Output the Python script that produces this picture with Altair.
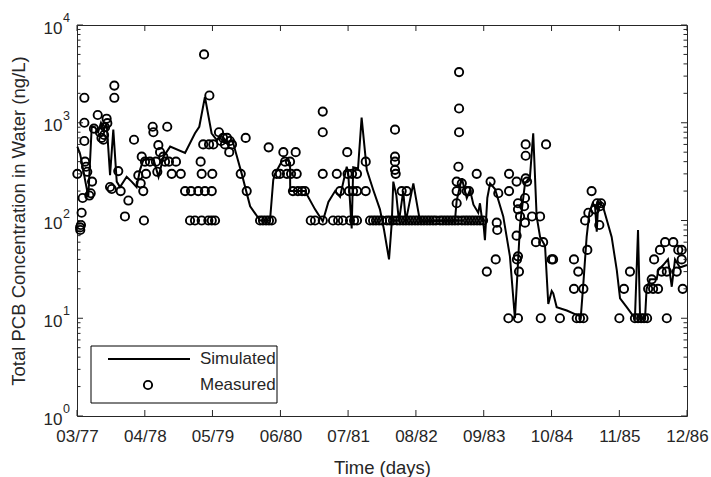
import altair as alt
import pandas as pd

# ---- simulated water-column PCB concentration (days since 1 Mar 1977, ng/L)
sim_day = [2, 18, 29, 47, 66, 86, 105, 123, 140, 158, 173, 193, 212, 232, 251, 290, 319, 348,
           368, 388, 447, 476, 505, 544, 631, 689, 714, 747, 786, 815, 835, 864, 905, 912, 962,
           1011, 1069, 1127, 1146, 1156, 1195, 1225, 1244, 1245, 1331, 1390, 1435, 1468, 1507,
           1536, 1575, 1584, 1604, 1613, 1641, 1662, 1692, 1730, 1769, 1793, 1822, 1838, 1847,
           1865, 1880, 1905, 1920, 1964, 2003, 2207, 2217, 2247, 2276, 2295, 2315, 2343, 2353,
           2363, 2373, 2382, 2396, 2412, 2441, 2489, 2528, 2557, 2571, 2587, 2616, 2645, 2664,
           2684, 2704, 2733, 2752, 2772, 2781, 2801, 2860, 2908, 2942, 2957, 2976, 2992, 3011,
           3025, 3035, 3044, 3071, 3122, 3152, 3171, 3210, 3258, 3276, 3288, 3317, 3326, 3346,
           3385, 3394, 3423, 3451, 3473, 3492, 3521, 3562]
sim_conc = [570, 480, 390, 260, 175, 910, 900, 800, 1000, 850, 990, 290, 850, 250, 220, 280, 250, 220,
            330, 420, 420, 280, 450, 570, 490, 780, 910, 1840, 780, 670, 700, 620, 650, 620, 300,
            140, 100, 100, 260, 300, 400, 420, 390, 200, 200, 130, 98, 155, 200,
            175, 355, 300, 83, 350, 340, 1130, 330, 205, 130, 80, 40, 95, 250,
            180, 98, 200, 98, 240, 98, 100, 160, 270, 170, 205, 145, 120, 150,
            110, 95, 63, 170, 240, 210, 110, 43, 10, 27, 90, 240, 280, 780,
            110, 68, 55, 14, 19, 18, 13, 12, 11, 10.4, 23, 68, 120, 150,
            140, 77, 155, 140, 68, 31, 16, 13, 10, 80, 10, 10, 20, 25,
            25, 31, 35, 40, 21, 40, 33, 35]

# ---- measured samples (days since 1 Mar 1977, ng/L)
meas_day = [2, 18, 19, 23, 27, 33, 43, 43, 43, 47,
            53, 60, 72, 80, 88, 99, 121, 134, 143, 154,
            158, 164, 173, 177, 193, 203, 218, 218, 241, 255,
            280, 300, 333, 358, 372, 378, 387, 391, 397, 403,
            426, 442, 446, 461, 469, 475, 485, 504, 514, 527,
            537, 553, 578, 606, 631, 660, 666, 689, 708, 722,
            728, 728, 737, 742, 747, 767, 771, 773, 787, 787,
            790, 796, 806, 829, 841, 853, 864, 876, 889, 893,
            905, 956, 985, 991, 1069, 1086, 1104, 1119, 1121, 1137,
            1166, 1185, 1205, 1215, 1226, 1244, 1250, 1261, 1277, 1283,
            1290, 1314, 1331, 1365, 1390, 1435, 1435, 1435, 1435, 1495,
            1517, 1525, 1536, 1553, 1578, 1580, 1588, 1594, 1606, 1612,
            1618, 1635, 1635, 1635, 1686, 1686, 1711, 1729, 1746, 1764,
            1781, 1810, 1828, 1845, 1857, 1857, 1857, 1857, 1861, 1869,
            1886, 1896, 1904, 1921, 1925, 1939, 1956, 1974, 1991, 2009,
            2026, 2044, 2061, 2079, 2096, 2120, 2137, 2155, 2172, 2190,
            2207, 2217, 2217, 2217, 2225, 2231, 2231, 2231, 2227, 2247,
            2248, 2266, 2276, 2289, 2283, 2301, 2318, 2334, 2336, 2353,
            2371, 2393, 2415, 2445, 2451, 2454, 2460, 2523, 2523, 2519,
            2567, 2567, 2569, 2575, 2575, 2575, 2575, 2581, 2587, 2611,
            2616, 2616, 2620, 2620, 2620, 2628, 2657, 2680, 2704, 2708,
            2722, 2739, 2772, 2780, 2820, 2902, 2902, 2927, 2918, 2937,
            2957, 2957, 2967, 2980, 2986, 3005, 3025, 3037, 3054, 3060,
            3050, 3167, 3194, 3229, 3258, 3276, 3294, 3311, 3329, 3335,
            3356, 3364, 3370, 3393, 3404, 3414, 3434, 3444, 3444, 3482,
            3502, 3511, 3531, 3531, 3537]
meas_conc = [300, 85, 80, 90, 120, 170, 1800, 1000, 650, 400,
             355, 315, 180, 190, 250, 870, 1200, 800, 700, 670,
             750, 900, 1100, 990, 220, 210, 2400, 1800, 320, 200,
             110, 160, 670, 290, 240, 450, 200, 100, 400, 300,
             400, 910, 800, 400, 315, 590, 500, 450, 400, 910,
             400, 300, 400, 300, 200, 100, 200, 100, 200, 400,
             100, 300, 600, 5000, 200, 100, 600, 1900, 200, 100,
             300, 600, 100, 800, 650, 700, 600, 700, 500, 650,
             600, 300, 700, 200, 100, 100, 100, 560, 100, 100,
             300, 300, 500, 400, 300, 400, 300, 200, 500, 300,
             200, 200, 200, 100, 100, 1300, 800, 300, 100, 100,
             300, 100, 200, 100, 500, 300, 200, 100, 300, 200,
             100, 300, 200, 100, 400, 200, 100, 100, 100, 100,
             100, 100, 100, 100, 850, 450, 400, 330, 300, 100,
             100, 200, 100, 100, 200, 100, 100, 100, 100, 100,
             100, 100, 100, 100, 100, 100, 100, 100, 100, 100,
             100, 250, 200, 150, 100, 3300, 1400, 800, 355, 240,
             100, 100, 200, 200, 100, 100, 100, 300, 100, 100,
             100, 30, 250, 40, 95, 80, 190, 300, 200, 10,
             250, 70, 40, 150, 130, 43, 10, 30, 110, 140,
             170, 95, 600, 460, 270, 250, 110, 60, 110, 10,
             60, 600, 40, 40, 10, 40, 20, 30, 10, 10,
             10, 20, 100, 50, 120, 200, 130, 150, 140, 150,
             90, 10, 20, 30, 10, 10, 10, 10, 10, 20,
             25, 20, 40, 20, 50, 30, 60, 10, 30, 60,
             30, 50, 40, 50, 20]

# ---- axis ticks
tick_days = [0, 396, 791, 1188, 1583, 1979, 2375, 2771, 3167, 3562]
tick_labels = ["03/77", "04/78", "05/79", "06/80", "07/81",
               "08/82", "09/83", "10/84", "11/85", "12/86"]
decades = [1, 10, 100, 1000, 10000]
exponents = ["0", "1", "2", "3", "4"]
minor_ticks = [m * 10 ** k for k in range(4) for m in range(2, 10)]

W, H = 610, 391
FONT = "Liberation Sans"
INK = "#262626"

sim = pd.DataFrame({"day": sim_day, "conc": sim_conc})
meas = pd.DataFrame({"day": meas_day, "conc": meas_conc})
xt = pd.DataFrame({"day": tick_days})
yt = pd.DataFrame({"conc": decades, "exp": exponents})
ym = pd.DataFrame({"conc": minor_ticks})

xs = alt.Scale(domain=[0, 3562], nice=False, zero=False)
ys = alt.Scale(type="log", domain=[1, 10000], nice=False)

label_expr = ("[" + ",".join(f"'{t}'" for t in tick_labels) + "][indexof(["
              + ",".join(str(d) for d in tick_days) + "], datum.value)]")

x_axis = alt.Axis(values=tick_days, labelExpr=label_expr, ticks=False, domain=False,
                  grid=False, labelPadding=12, labelFontSize=17, labelFont=FONT,
                  labelColor=INK, title="Time (days)", titleFont=FONT, titleFontSize=18.5,
                  titleFontWeight="normal", titleColor=INK, titleY=51,
                  titleBaseline="middle", labelFlush=False)
y_axis = alt.Axis(values=decades, labelExpr="'10'", ticks=False, domain=False, grid=False,
                  labelPadding=15, labelFontSize=17, labelFont=FONT, labelColor=INK,
                  labelOffset=3, labelBaseline="middle",
                  title="Total PCB Concentration in Water (ng/L)", titleFont=FONT,
                  titleFontSize=18.5, titleFontWeight="normal", titleColor=INK,
                  titleX=-59, titleY=H / 2, titleBaseline="middle", titleAngle=-90)

X = alt.X("day:Q", scale=xs, axis=x_axis)
Y = alt.Y("conc:Q", scale=ys, axis=y_axis)

measured = alt.Chart(meas).mark_point(
    shape="circle", filled=False, color="black", strokeWidth=1.9, size=68, opacity=1
).encode(x=X, y=Y)

simulated = alt.Chart(sim).mark_line(color="black", strokeWidth=2).encode(x=X, y=Y)

# inward tick marks on all four sides
def xticks(y0, y1):
    return alt.Chart(xt).mark_rule(color=INK, strokeWidth=1).encode(
        x=X, y=alt.value(y0), y2=alt.value(y1))

def yticks(data, x0, x1):
    return alt.Chart(data).mark_rule(color=INK, strokeWidth=1).encode(
        y=Y, x=alt.value(x0), x2=alt.value(x1))

tick_layers = [
    xticks(H, H - 6), xticks(0, 6),
    yticks(yt, 0, 6), yticks(yt, W, W - 6),
    yticks(ym, 0, 3.5), yticks(ym, W, W - 3.5),
]

# superscript exponents of the decade labels
exps = alt.Chart(yt).mark_text(
    align="left", baseline="middle", font=FONT, fontSize=12.5, color=INK, dy=-7
).encode(y=Y, x=alt.value(-14), text="exp:N")

# legend box
legend_df = pd.DataFrame({"k": [0]})
box = alt.Chart(legend_df).mark_rect(fill="white", stroke="black", strokeWidth=1).encode(
    x=alt.value(14), x2=alt.value(200), y=alt.value(321), y2=alt.value(378))
leg_line = alt.Chart(legend_df).mark_rule(color="black", strokeWidth=2).encode(
    x=alt.value(31), x2=alt.value(113), y=alt.value(334))
leg_pt = alt.Chart(legend_df).mark_point(
    shape="circle", filled=False, color="black", strokeWidth=1.9, size=68, opacity=1
).encode(x=alt.value(71), y=alt.value(360))

def leg_label(text, yy):
    return alt.Chart(legend_df).mark_text(
        align="left", baseline="middle", font=FONT, fontSize=17, color=INK, text=text
    ).encode(x=alt.value(123), y=alt.value(yy))

chart = alt.layer(
    measured, simulated, *tick_layers, exps, box, leg_line, leg_pt,
    leg_label("Simulated", 334), leg_label("Measured", 360)
).properties(
    width=W, height=H,
    autosize=alt.AutoSizeParams(type="none"),
    padding={"left": 77, "top": 25, "right": 24, "bottom": 61},
    background="white",
).configure_view(stroke=INK, strokeWidth=1)

chart.save("out.html", embed_options={"renderer": "svg", "actions": False})
